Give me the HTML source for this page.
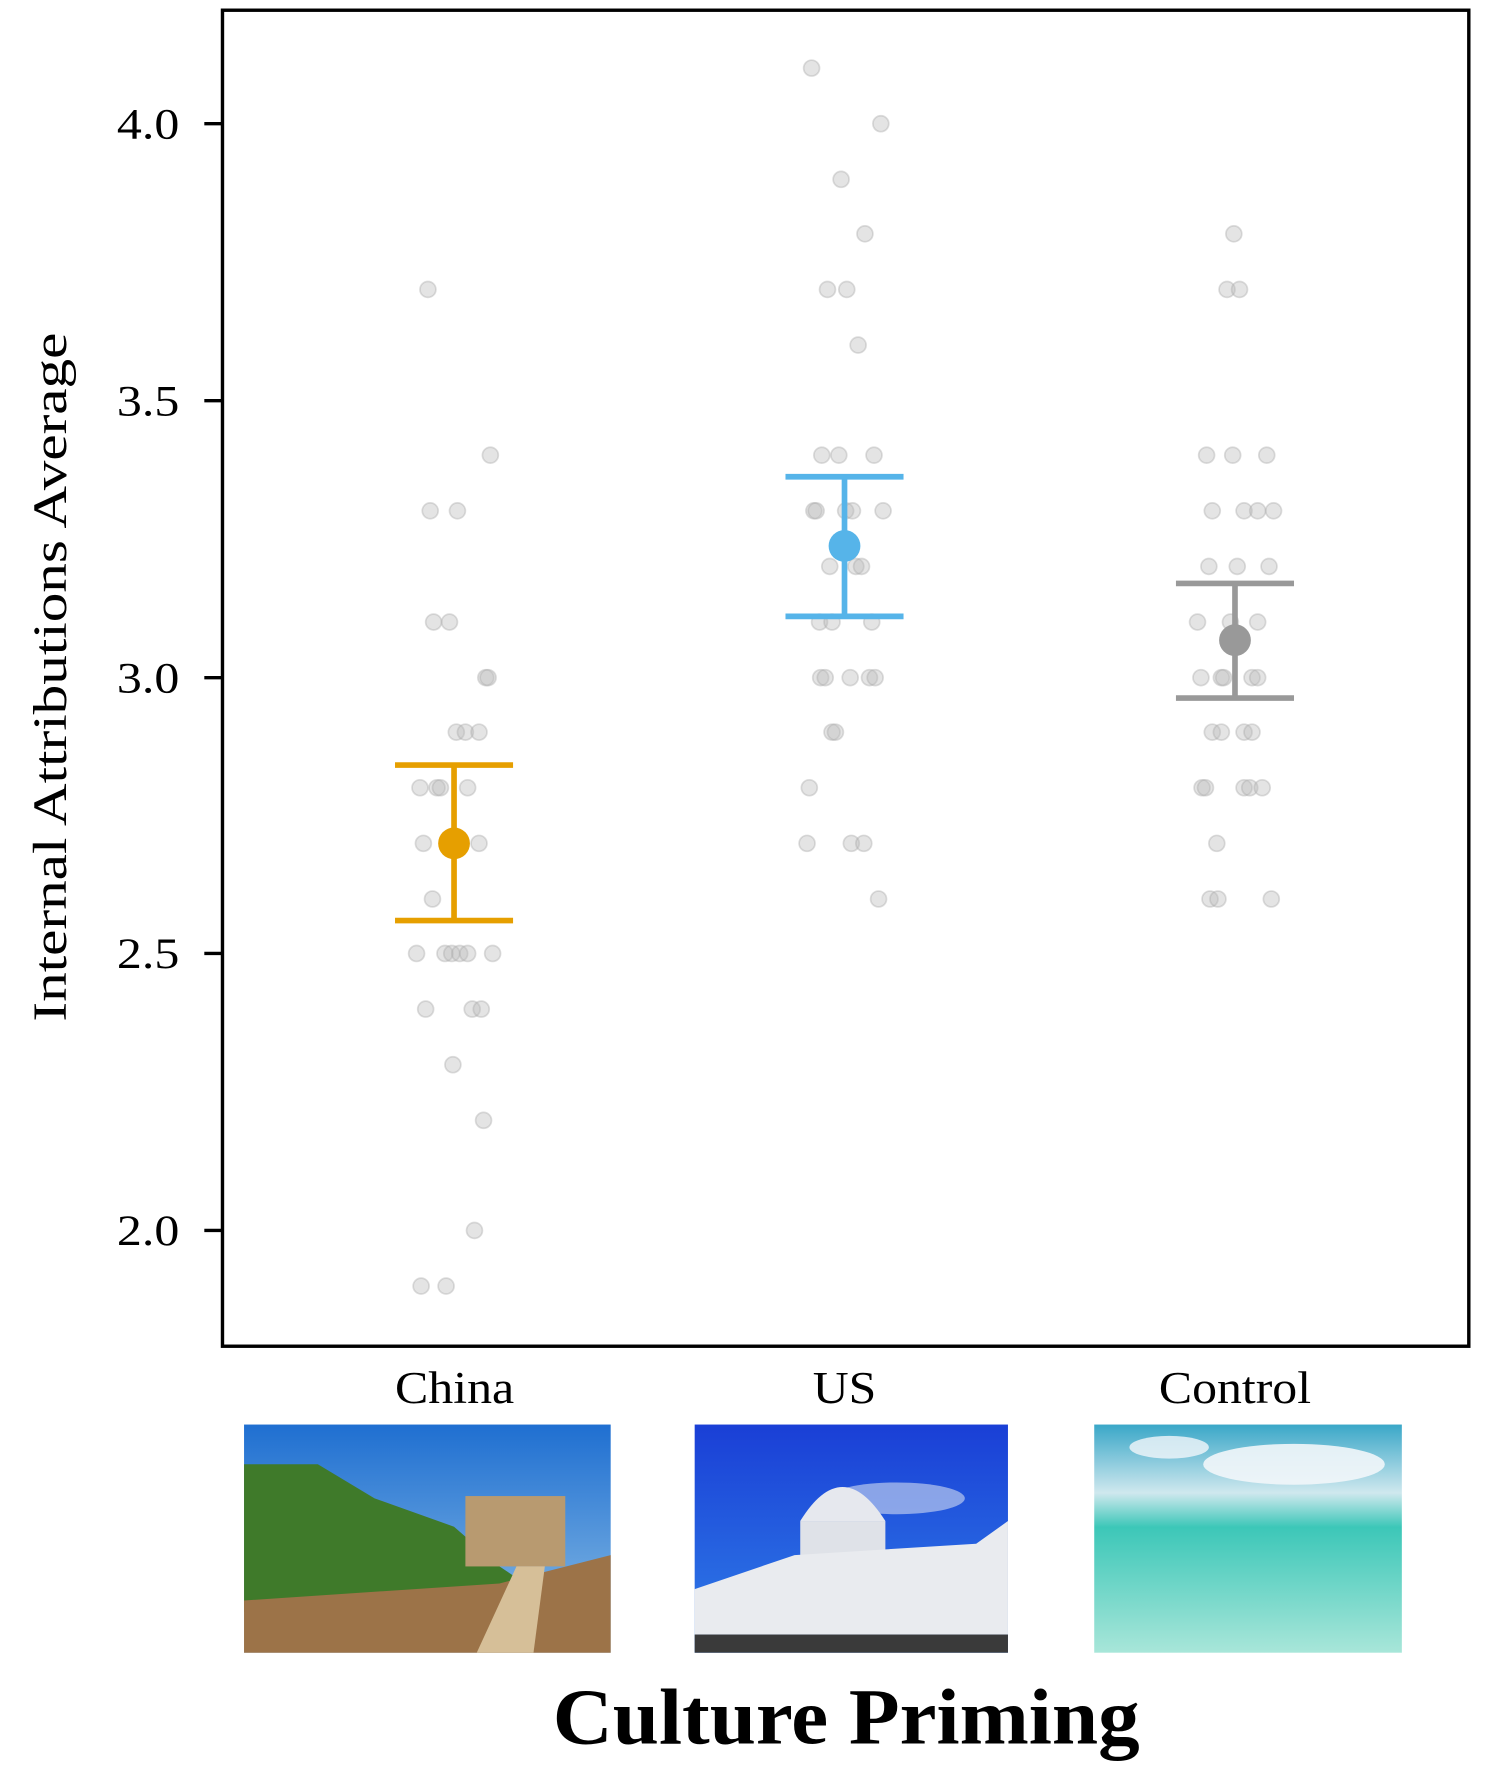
<!DOCTYPE html>
<html><head><meta charset="utf-8"><style>html,body{margin:0;padding:0;background:#fff}svg{display:block}</style></head>
<body>
<svg width="1504" height="1777" viewBox="0 0 1325 1565.5" xmlns="http://www.w3.org/2000/svg" font-family="'Liberation Serif', serif">
<defs>
<linearGradient id="sky1" x1="0" y1="0" x2="0" y2="1"><stop offset="0" stop-color="#1f6fd1"/><stop offset="1" stop-color="#8fc0e6"/></linearGradient>
<linearGradient id="sky2" x1="0" y1="0" x2="0" y2="1"><stop offset="0" stop-color="#1a3fd6"/><stop offset="1" stop-color="#2f7ee8"/></linearGradient>
<linearGradient id="sea" x1="0" y1="0" x2="0" y2="1"><stop offset="0" stop-color="#3aa7c8"/><stop offset="0.3" stop-color="#cfe8ee"/><stop offset="0.45" stop-color="#3cc7b8"/><stop offset="1" stop-color="#a8e6d9"/></linearGradient>
</defs>
<rect x="196" y="9" width="1098" height="1177" fill="none" stroke="#000" stroke-width="3"/>
<g stroke="#000" stroke-width="3">
<line x1="180" y1="109" x2="196" y2="109"/><line x1="180" y1="353" x2="196" y2="353"/><line x1="180" y1="597" x2="196" y2="597"/><line x1="180" y1="840" x2="196" y2="840"/><line x1="180" y1="1084" x2="196" y2="1084"/>
</g>
<g font-size="38">
<text x="103" y="122" textLength="55" lengthAdjust="spacingAndGlyphs">4.0</text><text x="103" y="366" textLength="55" lengthAdjust="spacingAndGlyphs">3.5</text><text x="103" y="610" textLength="55" lengthAdjust="spacingAndGlyphs">3.0</text><text x="103" y="853" textLength="55" lengthAdjust="spacingAndGlyphs">2.5</text><text x="103" y="1097" textLength="55" lengthAdjust="spacingAndGlyphs">2.0</text>
</g>
<text transform="translate(58,900) rotate(-90)" font-size="42" textLength="607" lengthAdjust="spacingAndGlyphs">Internal Attributions Average</text>
<g fill="#bbb" fill-opacity="0.4" stroke="#aaa" stroke-opacity="0.4" stroke-width="1.5">
<circle cx="377" cy="255" r="7"/><circle cx="379" cy="450" r="7"/><circle cx="403" cy="450" r="7"/><circle cx="432" cy="401" r="7"/><circle cx="382" cy="548" r="7"/><circle cx="396" cy="548" r="7"/><circle cx="428" cy="597" r="7"/><circle cx="430" cy="597" r="7"/><circle cx="402" cy="645" r="7"/><circle cx="410" cy="645" r="7"/><circle cx="422" cy="645" r="7"/><circle cx="370" cy="694" r="7"/><circle cx="385" cy="694" r="7"/><circle cx="388" cy="694" r="7"/><circle cx="412" cy="694" r="7"/><circle cx="373" cy="743" r="7"/><circle cx="395" cy="743" r="7"/><circle cx="422" cy="743" r="7"/><circle cx="381" cy="792" r="7"/><circle cx="367" cy="840" r="7"/><circle cx="392" cy="840" r="7"/><circle cx="398" cy="840" r="7"/><circle cx="405" cy="840" r="7"/><circle cx="412" cy="840" r="7"/><circle cx="434" cy="840" r="7"/><circle cx="375" cy="889" r="7"/><circle cx="416" cy="889" r="7"/><circle cx="424" cy="889" r="7"/><circle cx="399" cy="938" r="7"/><circle cx="426" cy="987" r="7"/><circle cx="418" cy="1084" r="7"/><circle cx="371" cy="1133" r="7"/><circle cx="393" cy="1133" r="7"/>
<circle cx="715" cy="60" r="7"/><circle cx="776" cy="109" r="7"/><circle cx="741" cy="158" r="7"/><circle cx="762" cy="206" r="7"/><circle cx="729" cy="255" r="7"/><circle cx="746" cy="255" r="7"/><circle cx="756" cy="304" r="7"/><circle cx="724" cy="401" r="7"/><circle cx="739" cy="401" r="7"/><circle cx="770" cy="401" r="7"/><circle cx="717" cy="450" r="7"/><circle cx="719" cy="450" r="7"/><circle cx="745" cy="450" r="7"/><circle cx="751" cy="450" r="7"/><circle cx="778" cy="450" r="7"/><circle cx="731" cy="499" r="7"/><circle cx="754" cy="499" r="7"/><circle cx="759" cy="499" r="7"/><circle cx="722" cy="548" r="7"/><circle cx="733" cy="548" r="7"/><circle cx="768" cy="548" r="7"/><circle cx="723" cy="597" r="7"/><circle cx="727" cy="597" r="7"/><circle cx="749" cy="597" r="7"/><circle cx="766" cy="597" r="7"/><circle cx="771" cy="597" r="7"/><circle cx="733" cy="645" r="7"/><circle cx="736" cy="645" r="7"/><circle cx="713" cy="694" r="7"/><circle cx="711" cy="743" r="7"/><circle cx="750" cy="743" r="7"/><circle cx="761" cy="743" r="7"/><circle cx="774" cy="792" r="7"/>
<circle cx="1087" cy="206" r="7"/><circle cx="1081" cy="255" r="7"/><circle cx="1092" cy="255" r="7"/><circle cx="1063" cy="401" r="7"/><circle cx="1086" cy="401" r="7"/><circle cx="1116" cy="401" r="7"/><circle cx="1068" cy="450" r="7"/><circle cx="1096" cy="450" r="7"/><circle cx="1108" cy="450" r="7"/><circle cx="1122" cy="450" r="7"/><circle cx="1065" cy="499" r="7"/><circle cx="1090" cy="499" r="7"/><circle cx="1118" cy="499" r="7"/><circle cx="1055" cy="548" r="7"/><circle cx="1084" cy="548" r="7"/><circle cx="1108" cy="548" r="7"/><circle cx="1058" cy="597" r="7"/><circle cx="1076" cy="597" r="7"/><circle cx="1078" cy="597" r="7"/><circle cx="1103" cy="597" r="7"/><circle cx="1108" cy="597" r="7"/><circle cx="1068" cy="645" r="7"/><circle cx="1076" cy="645" r="7"/><circle cx="1096" cy="645" r="7"/><circle cx="1103" cy="645" r="7"/><circle cx="1059" cy="694" r="7"/><circle cx="1062" cy="694" r="7"/><circle cx="1096" cy="694" r="7"/><circle cx="1101" cy="694" r="7"/><circle cx="1112" cy="694" r="7"/><circle cx="1072" cy="743" r="7"/><circle cx="1066" cy="792" r="7"/><circle cx="1073" cy="792" r="7"/><circle cx="1120" cy="792" r="7"/>
</g>
<g stroke="#E69F00" stroke-width="5" fill="none"><line x1="400" y1="674" x2="400" y2="811"/><line x1="348" y1="674" x2="452" y2="674"/><line x1="348" y1="811" x2="452" y2="811"/></g>
<circle cx="400" cy="743" r="14" fill="#E69F00"/>
<g stroke="#56B4E9" stroke-width="5" fill="none"><line x1="744" y1="420" x2="744" y2="543"/><line x1="692" y1="420" x2="796" y2="420"/><line x1="692" y1="543" x2="796" y2="543"/></g>
<circle cx="744" cy="481" r="14" fill="#56B4E9"/>
<g stroke="#999" stroke-width="5" fill="none"><line x1="1088" y1="514" x2="1088" y2="615"/><line x1="1036" y1="514" x2="1140" y2="514"/><line x1="1036" y1="615" x2="1140" y2="615"/></g>
<circle cx="1088" cy="564" r="14" fill="#999"/>
<g font-size="40">
<text x="348" y="1236" textLength="105" lengthAdjust="spacingAndGlyphs">China</text><text x="716" y="1236" textLength="56" lengthAdjust="spacingAndGlyphs">US</text><text x="1021" y="1236" textLength="134" lengthAdjust="spacingAndGlyphs">Control</text>
</g>
<!-- China image -->
<rect x="215" y="1255" width="323" height="201" fill="url(#sky1)"/>
<path d="M215 1290 L280 1290 L330 1320 L400 1345 L440 1380 L470 1400 L400 1420 L215 1420Z" fill="#3f7a2a"/>
<rect x="410" y="1318" width="88" height="62" fill="#b89a70"/>
<path d="M215 1410 L440 1395 L538 1370 L538 1456 L215 1456Z" fill="#9c7348"/>
<path d="M420 1456 L455 1380 L480 1380 L470 1456Z" fill="#d6bf98"/>
<!-- US image -->
<rect x="612" y="1255" width="276" height="201" fill="url(#sky2)"/>
<ellipse cx="790" cy="1320" rx="60" ry="14" fill="#b8c8ee" opacity="0.7"/>
<path d="M705 1340 Q742 1280 780 1340Z" fill="#e6e8ee"/>
<rect x="705" y="1340" width="75" height="30" fill="#dfe2e8"/>
<path d="M612 1400 L700 1370 L860 1360 L888 1340 L888 1440 L612 1440Z" fill="#e9ebef"/>
<rect x="612" y="1440" width="276" height="16" fill="#3a3a3a"/>
<!-- Control image -->
<rect x="964" y="1255" width="271" height="201" fill="url(#sea)"/>
<ellipse cx="1140" cy="1290" rx="80" ry="18" fill="#f2f6fa" opacity="0.9"/>
<ellipse cx="1030" cy="1275" rx="35" ry="10" fill="#f2f6fa" opacity="0.8"/>
<text x="487" y="1536" font-size="70" font-weight="bold" textLength="517" lengthAdjust="spacingAndGlyphs">Culture Priming</text>
</svg>
</body></html>
